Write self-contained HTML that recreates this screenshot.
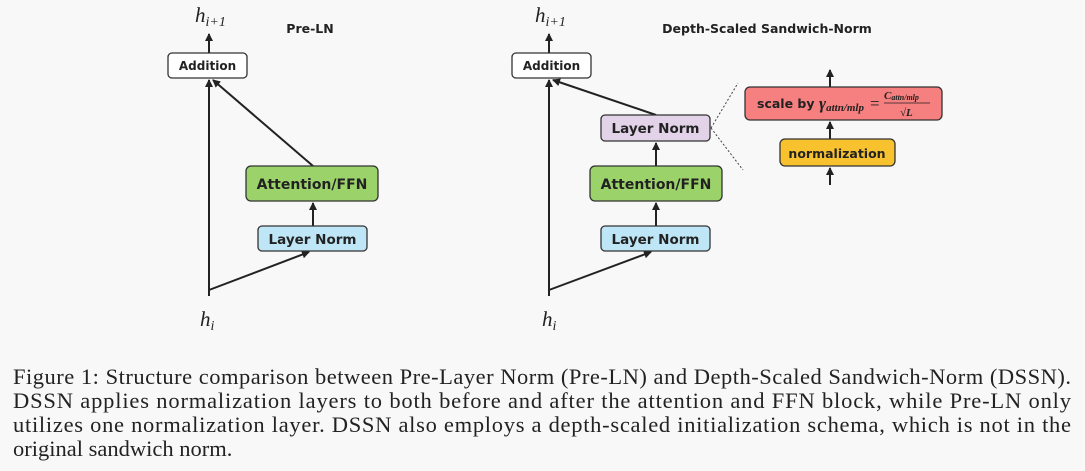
<!DOCTYPE html>
<html><head><meta charset="utf-8"><style>
html,body{margin:0;padding:0;background:#f8f8f8;}
svg{display:block;}
.b{font-family:"DejaVu Sans","Liberation Sans",sans-serif;font-weight:bold;fill:#222;}
.m{font-family:"Liberation Serif",serif;font-style:italic;fill:#222;}
.c{font-family:"Liberation Serif",serif;font-size:22.5px;fill:#222;}
</style></head><body>
<svg width="1085" height="471" viewBox="0 0 1085 471" xmlns="http://www.w3.org/2000/svg">
<defs><marker id="a" markerWidth="8" markerHeight="8" refX="7" refY="4" orient="auto" markerUnits="userSpaceOnUse"><path d="M0,0 L8,4 L0,8 z" fill="#222"/></marker></defs>
<rect width="1085" height="471" fill="#f8f8f8"/>
<g stroke="#222" stroke-width="2" fill="none">
<line x1="209" y1="53" x2="209" y2="34" marker-end="url(#a)"/>
<line x1="209" y1="296" x2="209" y2="80" marker-end="url(#a)"/>
<line x1="209" y1="290" x2="309" y2="252" marker-end="url(#a)"/>
<line x1="313" y1="226" x2="313" y2="203" marker-end="url(#a)"/>
<line x1="313" y1="166" x2="213" y2="80" marker-end="url(#a)"/>
<line x1="549" y1="53" x2="549" y2="34" marker-end="url(#a)"/>
<line x1="549" y1="296" x2="549" y2="80" marker-end="url(#a)"/>
<line x1="549" y1="290" x2="651" y2="252" marker-end="url(#a)"/>
<line x1="656" y1="226" x2="656" y2="203" marker-end="url(#a)"/>
<line x1="656" y1="166" x2="656" y2="143" marker-end="url(#a)"/>
<line x1="656" y1="115" x2="553" y2="80" marker-end="url(#a)"/>
<line x1="830" y1="185" x2="830" y2="168" marker-end="url(#a)"/>
<line x1="830" y1="139" x2="830" y2="122" marker-end="url(#a)"/>
<line x1="830" y1="87" x2="830" y2="70" marker-end="url(#a)"/>
</g>
<g stroke="#444" stroke-width="1" stroke-dasharray="2,2">
<line x1="711" y1="128" x2="738" y2="83"/>
<line x1="711" y1="128" x2="743" y2="170"/>
</g>
<g stroke="#333" stroke-width="1.3">
<rect x="168" y="53" width="79" height="25" rx="4" fill="#fff"/>
<rect x="258" y="226" width="109" height="25" rx="4" fill="#bfe6f7"/>
<rect x="246" y="166" width="132" height="35" rx="5" fill="#9bd36a"/>
<rect x="512" y="53" width="79" height="25" rx="4" fill="#fff"/>
<rect x="601" y="226" width="109" height="25" rx="4" fill="#bfe6f7"/>
<rect x="590" y="166" width="132" height="35" rx="5" fill="#9bd36a"/>
<rect x="601" y="115" width="109" height="26" rx="4" fill="#e2d3e8"/>
<rect x="745" y="87" width="197" height="33" rx="5" fill="#f67f7f"/>
<rect x="780" y="139" width="115" height="27" rx="5" fill="#f8c22e"/>
</g>
<g class="b" text-anchor="middle">
<text x="207.5" y="70" font-size="12">Addition</text>
<text x="551.5" y="70" font-size="12">Addition</text>
<text x="312.5" y="244" font-size="13.5">Layer Norm</text>
<text x="655.5" y="244" font-size="13.5">Layer Norm</text>
<text x="655.5" y="133" font-size="13.5">Layer Norm</text>
<text x="312" y="189" font-size="14">Attention/FFN</text>
<text x="656" y="189" font-size="14">Attention/FFN</text>
<text x="837" y="158" font-size="12.5">normalization</text>
<text x="310" y="33" font-size="12.5">Pre-LN</text>
<text x="767" y="33" font-size="12.5">Depth-Scaled Sandwich-Norm</text>
</g>
<text class="b" x="757" y="108" font-size="12.5">scale by</text>
<text class="m" x="819" y="109" font-size="17" font-weight="bold">γ<tspan font-size="11" dy="2">attn/mlp</tspan></text>
<text x="870" y="109" font-size="17" font-family="Liberation Serif,serif" fill="#222">=</text>
<text class="m" x="884" y="99" font-size="11" font-weight="bold">C<tspan font-size="8" dy="1">attn/mlp</tspan></text>
<line x1="884" y1="103" x2="930" y2="103" stroke="#222" stroke-width="0.8"/>
<text class="m" x="900" y="116" font-size="11" font-weight="bold">√L</text>
<text class="m" x="195" y="22" font-size="21">h<tspan font-size="14" dy="4">i+1</tspan></text>
<text class="m" x="535" y="22" font-size="21">h<tspan font-size="14" dy="4">i+1</tspan></text>
<text class="m" x="200" y="326" font-size="21">h<tspan font-size="14" dy="4">i</tspan></text>
<text class="m" x="542" y="326" font-size="21">h<tspan font-size="14" dy="4">i</tspan></text>
<text class="c" x="13" y="384" textLength="1058" lengthAdjust="spacing">Figure 1: Structure comparison between Pre-Layer Norm (Pre-LN) and Depth-Scaled Sandwich-Norm (DSSN).</text>
<text class="c" x="13" y="408" textLength="1058" lengthAdjust="spacing">DSSN applies normalization layers to both before and after the attention and FFN block, while Pre-LN only</text>
<text class="c" x="13" y="432" textLength="1058" lengthAdjust="spacing">utilizes one normalization layer. DSSN also employs a depth-scaled initialization schema, which is not in the</text>
<text class="c" x="13" y="456">original sandwich norm.</text>
</svg>
</body></html>
